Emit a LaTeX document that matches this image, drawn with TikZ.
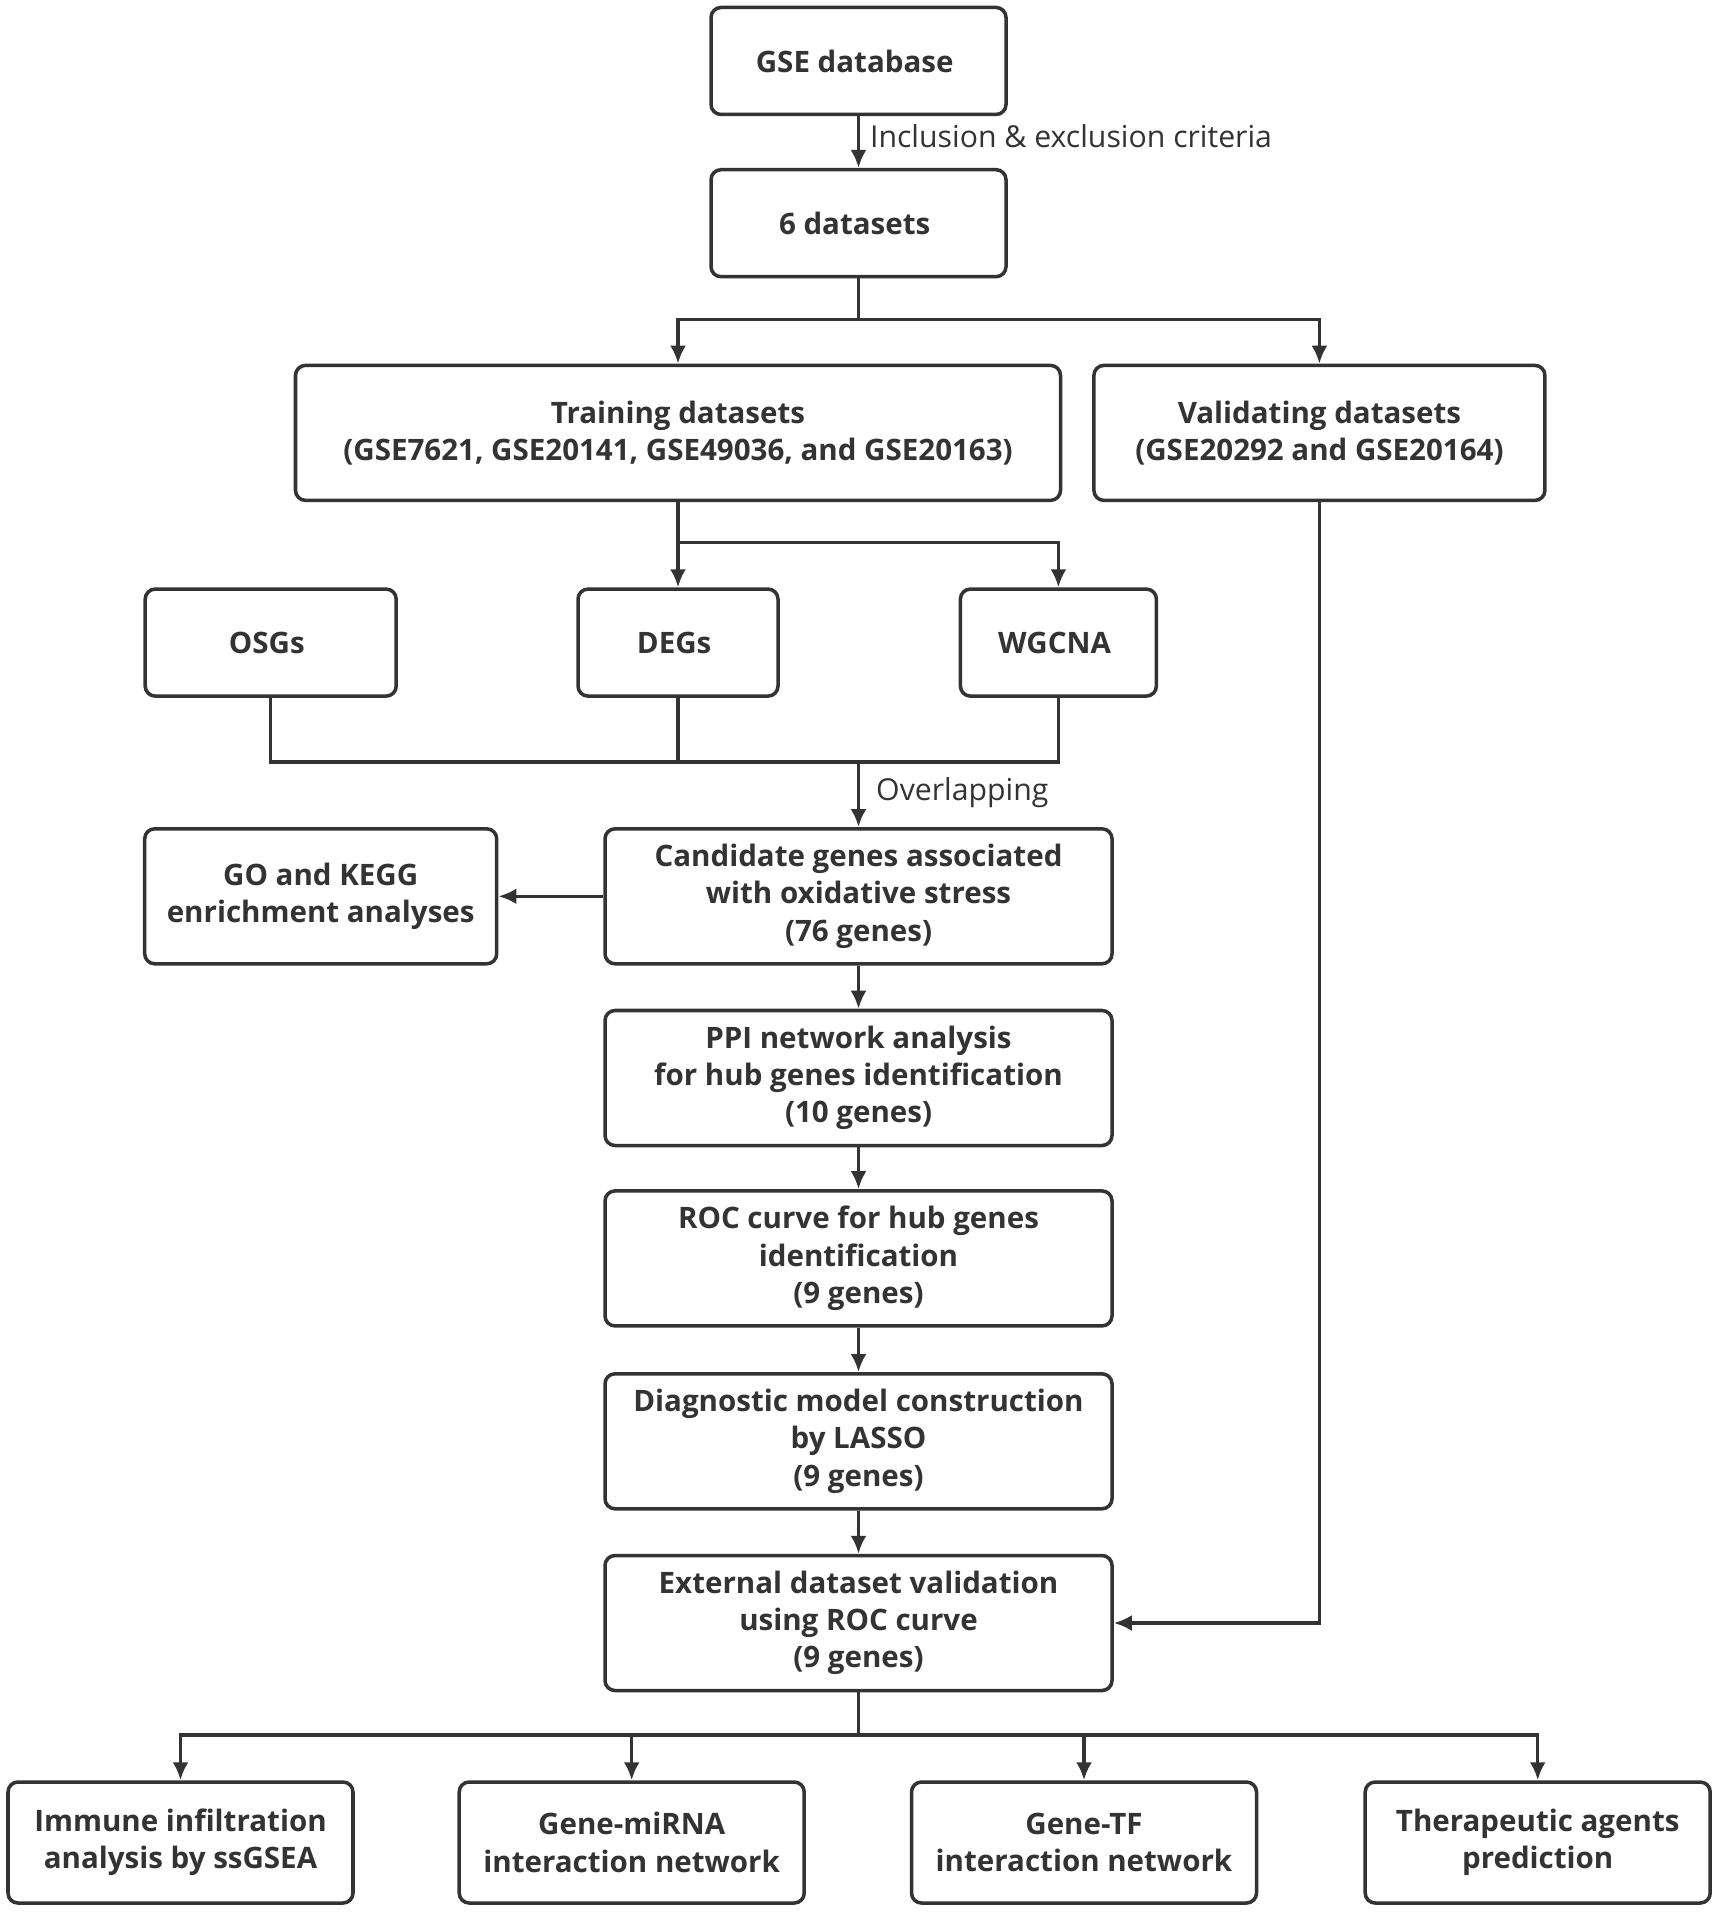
\documentclass[tikz,border=0pt]{standalone}
\usepackage{fontspec}
\setmainfont{Open Sans}
\usepackage{tikz}
\usetikzlibrary{arrows.meta, positioning}
\definecolor{inkgray}{HTML}{333333}
\tikzstyle{every node}=[font=\fontsize{8.6}{10.6}\selectfont, text=inkgray]
\tikzset{BoxStyle/.style = {
			shape          = rectangle,
			rounded corners= 1mm,
			draw           = inkgray,
			line width     = 1pt,
			fill           = white,
			align          = center,
			font           = \fontsize{8.4}{10.6}\selectfont\bfseries,
			inner sep      = 1pt,
			minimum height = 1.07cm}
			}
\tikzset{LineStyle/.style = {draw=inkgray, line width=1pt}}
\tikzset{ArrowStyle/.style = {LineStyle, -{Latex[length=1.8mm,width=1.6mm]}}}
\tikzset{LabelStyle/.style = {anchor=west, inner sep=0pt}}

\begin{document}
\begin{tikzpicture}
					\useasboundingbox[fill=white] (0,0) rectangle (17.12,-19.12);
					
					\draw (8.585,-0.610) node[BoxStyle, minimum width=2.95cm]   (GSE) { GSE database };
					\draw (8.585,-2.232) node[BoxStyle, minimum width=2.95cm]   (Six) { 6 datasets };
					
					\draw (6.780,-4.329) node[BoxStyle, minimum width=7.65cm, minimum height=1.35cm]   (Train) { Training datasets\\(GSE7621, GSE20141, GSE49036, and GSE20163) };
					\draw (13.194,-4.329) node[BoxStyle, minimum width=4.51cm, minimum height=1.35cm]   (Valid) { Validating datasets\\(GSE20292 and GSE20164) };
					
					\draw (2.707,-6.426) node[BoxStyle, minimum width=2.51cm]   (OSG) { OSGs };
					\draw (6.780,-6.426) node[BoxStyle, minimum width=2.00cm]   (DEG) { DEGs };
					\draw (10.584,-6.426) node[BoxStyle, minimum width=1.96cm]   (WGC) { WGCNA };
					
					\draw (8.585,-8.963) node[BoxStyle, minimum width=5.07cm, minimum height=1.35cm]   (Cand) { Candidate genes associated\\with oxidative stress\\(76 genes) };
					\draw (3.207,-8.963) node[BoxStyle, minimum width=3.52cm, minimum height=1.35cm]   (GOK) { GO and KEGG\\enrichment analyses };
					\draw (8.585,-10.780) node[BoxStyle, minimum width=5.07cm, minimum height=1.35cm]   (PPI) { PPI network analysis\\for hub genes identification\\(10 genes) };
					\draw (8.585,-12.584) node[BoxStyle, minimum width=5.07cm, minimum height=1.35cm]   (ROC) { ROC curve for hub genes\\identification\\(9 genes) };
					\draw (8.585,-14.413) node[BoxStyle, minimum width=5.07cm, minimum height=1.35cm]   (Diag) { Diagnostic model construction\\by LASSO\\(9 genes) };
					\draw (8.585,-16.230) node[BoxStyle, minimum width=5.07cm, minimum height=1.35cm]   (Ext) { External dataset validation\\using ROC curve\\(9 genes) };
					
					\draw (1.805,-18.425) node[BoxStyle, minimum width=3.45cm, minimum height=1.21cm]   (Imm) { Immune infiltration\\analysis by ssGSEA };
					\draw (6.317,-18.425) node[BoxStyle, minimum width=3.45cm, minimum height=1.21cm]   (Mir) { Gene-miRNA\\interaction network };
					\draw (10.840,-18.425) node[BoxStyle, minimum width=3.45cm, minimum height=1.21cm]   (GTF) { Gene-TF\\interaction network };
					\draw (15.377,-18.425) node[BoxStyle, minimum width=3.45cm, minimum height=1.21cm]   (Ther) { Therapeutic agents\\prediction };
					
					\coordinate (B1) at (8.585,-3.195);
					\coordinate (B2) at (6.780,-5.426);
					\coordinate (M1) at (8.585,-7.621);
					\coordinate (B3) at (8.585,-17.352);
					
					\draw[ArrowStyle]    (GSE) to[] (Six);
					\draw (8.694,-1.366) node[LabelStyle]   (Incl) { Inclusion \& exclusion criteria };
					
					\draw[LineStyle]     (Six) to[] (B1);
					\draw[ArrowStyle]    (B1) -| (Train);
					\draw[ArrowStyle]    (B1) -| (Valid);
					
					\draw[LineStyle]     (Train) to[] (B2);
					\draw[ArrowStyle]    (B2) to[] (DEG);
					\draw[ArrowStyle]    (B2) -| (WGC);
					
					\draw[LineStyle]     (OSG) |- (M1);
					\draw[LineStyle]     (WGC) |- (M1);
					\draw[LineStyle]     (DEG) to[] (DEG |- M1);
					\draw[ArrowStyle]    (M1) to[] (Cand);
					\draw (8.755,-7.926) node[LabelStyle]   (Over) { Overlapping };
					
					\draw[ArrowStyle]    (Cand) to[] (GOK);
					\draw[ArrowStyle]    (Cand) to[] (PPI);
					\draw[ArrowStyle]    (PPI) to[] (ROC);
					\draw[ArrowStyle]    (ROC) to[] (Diag);
					\draw[ArrowStyle]    (Diag) to[] (Ext);
					\draw[ArrowStyle]    (Valid) |- (Ext);
					
					\draw[LineStyle]     (Ext) to[] (B3);
					\draw[ArrowStyle]    (B3) -| (Imm);
					\draw[ArrowStyle]    (B3) -| (Mir);
					\draw[ArrowStyle]    (B3) -| (GTF);
					\draw[ArrowStyle]    (B3) -| (Ther);
					
\end{tikzpicture}
\end{document}
